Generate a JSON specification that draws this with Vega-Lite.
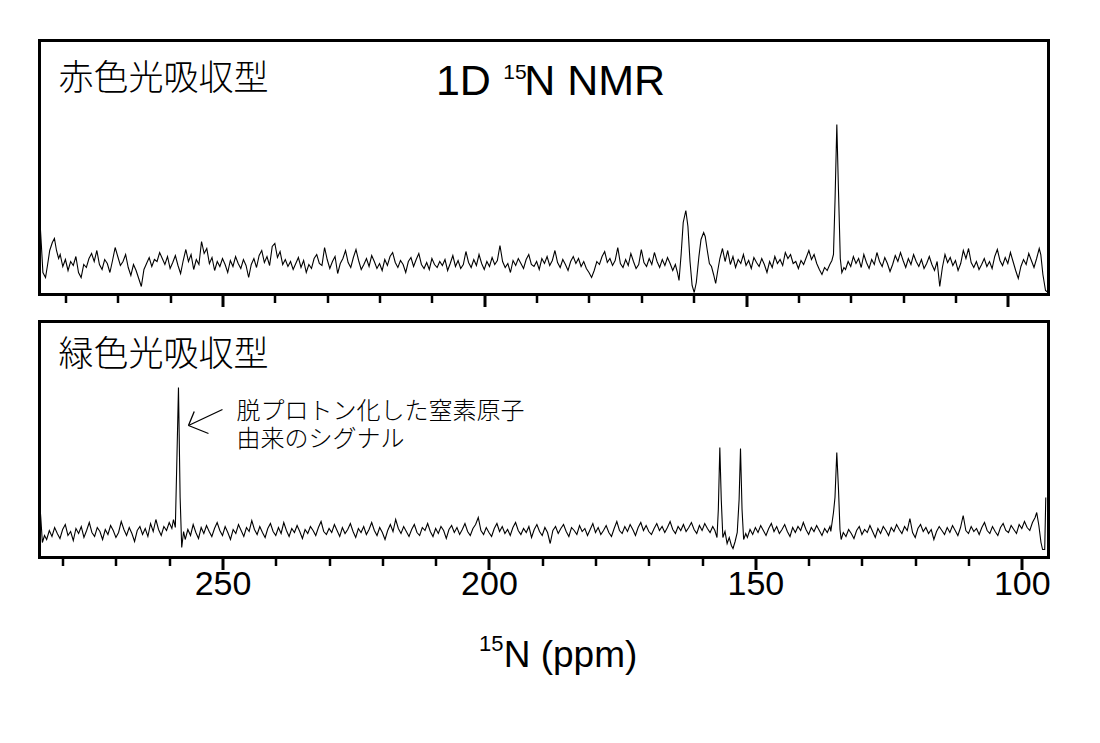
{
"$schema": "https://vega.github.io/schema/vega-lite/v6.json",
"background": "white",
"padding": {"left": 35.5, "top": 38.5, "right": 5, "bottom": 5},
"config": {"view": {"stroke": "black", "strokeWidth": 3}, "font": "Liberation Sans"},
"spacing": 27,
"bounds": "flush",
"vconcat": [
{
"width": 1009, "height": 254,
"encoding": {
 "x": {"field": "x", "type": "quantitative", "scale": {"domain": [92.23, 284.95], "reverse": true, "nice": false, "zero": false},
  "axis": {"values": [280,270,260,250,240,230,220,210,200,190,180,170,160,150,140,130,120,110,100], "labels": false, "domain": false, "grid": false, "title": null, "tickColor": "black",
   "tickSize": {"condition": {"test": "datum.value % 50 === 0", "value": 12}, "value": 8},
   "tickWidth": {"condition": {"test": "datum.value % 50 === 0", "value": 3}, "value": 2.5}}},
 "y": {"field": "y", "type": "quantitative", "scale": {"domain": [0, 254], "nice": false, "zero": false}, "axis": null}
},
"layer": [
 {"data": {"name": "red"}, "mark": {"type": "line", "color": "black", "strokeWidth": 1.1}},
 {"data": {"values": [{"x": 281.33, "y": 204.5, "t": "赤色光吸収型"}]}, "mark": {"type": "text", "font": "Noto Sans CJK JP", "fontWeight": 300, "fontSize": 35, "align": "left", "baseline": "alphabetic", "color": "black"}, "encoding": {"text": {"field": "t"}}},
 {"data": {"values": [{"x": 209.24, "y": 200, "t": "1D"}, {"x": 192.37, "y": 200, "t": "N NMR"}]}, "mark": {"type": "text", "font": "Liberation Sans", "fontSize": 43, "align": "left", "baseline": "alphabetic", "color": "black"}, "encoding": {"text": {"field": "t"}}},
 {"data": {"values": [{"x": 196.38, "y": 216, "t": "15"}]}, "mark": {"type": "text", "font": "Liberation Sans", "fontSize": 21, "align": "left", "baseline": "alphabetic", "color": "black"}, "encoding": {"text": {"field": "t"}}}
]
},
{
"width": 1009, "height": 236,
"encoding": {
 "x": {"field": "x", "type": "quantitative", "scale": {"domain": [94.99, 284.34], "reverse": true, "nice": false, "zero": false},
  "axis": {"values": [280,270,260,250,240,230,220,210,200,190,180,170,160,150,140,130,120,110,100], "domain": false, "grid": false, "title": null, "tickColor": "black",
   "tickSize": {"condition": {"test": "datum.value % 50 === 0", "value": 12}, "value": 8},
   "tickWidth": {"condition": {"test": "datum.value % 50 === 0", "value": 3}, "value": 2.5},
   "labelExpr": "datum.value % 50 === 0 ? datum.label : ''", "labelFont": "Liberation Sans", "labelFontSize": 34, "labelColor": "black", "labelPadding": -2, "labelBaseline": "top", "labelFlush": false, "labelOverlap": false}},
 "y": {"field": "y", "type": "quantitative", "scale": {"domain": [0, 236], "nice": false, "zero": false}, "axis": null}
},
"layer": [
 {"data": {"name": "green"}, "mark": {"type": "line", "color": "black", "strokeWidth": 1.1}},
 {"data": {"values": [{"x": 280.78, "y": 191.5, "t": "緑色光吸収型"}]}, "mark": {"type": "text", "font": "Noto Sans CJK JP", "fontWeight": 300, "fontSize": 35, "align": "left", "baseline": "alphabetic", "color": "black"}, "encoding": {"text": {"field": "t"}}},
 {"data": {"values": [{"x": 247.37, "y": 139, "t": "脱プロトン化した窒素原子"}, {"x": 247.37, "y": 111, "t": "由来のシグナル"}]}, "mark": {"type": "text", "font": "Noto Sans CJK JP", "fontWeight": 300, "fontSize": 24, "align": "left", "baseline": "alphabetic", "color": "black"}, "encoding": {"text": {"field": "t"}}},
 {"data": {"values": [{"x": 250.0, "y": 148, "x2": 256.38, "y2": 132}, {"x": 252.63, "y": 124, "x2": 256.38, "y2": 132}, {"x": 255.3, "y": 146, "x2": 256.38, "y2": 132}]}, "mark": {"type": "rule", "color": "black", "strokeWidth": 1.3}, "encoding": {"x2": {"field": "x2"}, "y2": {"field": "y2"}}},
 {"data": {"values": [{"x": 197.23, "y": -109, "t": "N (ppm)"}]}, "mark": {"type": "text", "font": "Liberation Sans", "fontSize": 37, "align": "left", "baseline": "alphabetic", "color": "black"}, "encoding": {"text": {"field": "t"}}},
 {"data": {"values": [{"x": 201.85, "y": -93, "t": "15"}]}, "mark": {"type": "text", "font": "Liberation Sans", "fontSize": 22, "align": "left", "baseline": "alphabetic", "color": "black"}, "encoding": {"text": {"field": "t"}}}
]
}
],
"datasets": {
"red": [
{"x":284.95,"y":81},{"x":284.6,"y":50},{"x":284.3,"y":22},{"x":283.8,"y":17},{"x":283.4,"y":30},{"x":283.0,"y":44},{"x":282.5,"y":52},{"x":282.1,"y":56},{"x":281.7,"y":44},{"x":281.3,"y":36},
{"x":281.0,"y":40},{"x":280.5,"y":28},{"x":280.0,"y":35},{"x":279.5,"y":24},{"x":279.0,"y":33},{"x":278.5,"y":29},{"x":278.0,"y":38},{"x":277.5,"y":22},{"x":277.0,"y":17},{"x":276.5,"y":30},
{"x":276.0,"y":27},{"x":275.5,"y":36},{"x":275.0,"y":41},{"x":274.5,"y":33},{"x":274.0,"y":44},{"x":273.5,"y":30},{"x":273.0,"y":25},{"x":272.5,"y":35},{"x":272.0,"y":31},{"x":271.5,"y":22},
{"x":271.0,"y":34},{"x":270.5,"y":47},{"x":270.0,"y":38},{"x":269.5,"y":29},{"x":269.0,"y":33},{"x":268.5,"y":40},{"x":268.0,"y":27},{"x":267.5,"y":19},{"x":267.0,"y":30},{"x":266.5,"y":24},
{"x":266.0,"y":16},{"x":265.5,"y":8},{"x":265.0,"y":25},{"x":264.5,"y":31},{"x":264.0,"y":37},{"x":263.5,"y":28},{"x":263.0,"y":35},{"x":262.5,"y":33},{"x":262.0,"y":42},{"x":261.5,"y":36},
{"x":261.0,"y":30},{"x":260.5,"y":38},{"x":260.0,"y":26},{"x":259.5,"y":32},{"x":259.0,"y":39},{"x":258.5,"y":29},{"x":258.0,"y":21},{"x":257.5,"y":34},{"x":257.0,"y":45},{"x":256.5,"y":33},
{"x":256.0,"y":40},{"x":255.5,"y":25},{"x":255.0,"y":35},{"x":254.5,"y":30},{"x":254.0,"y":53},{"x":253.5,"y":41},{"x":253.0,"y":46},{"x":252.5,"y":31},{"x":252.0,"y":37},{"x":251.5,"y":24},
{"x":251.0,"y":33},{"x":250.5,"y":28},{"x":250.0,"y":36},{"x":249.5,"y":30},{"x":249.0,"y":22},{"x":248.5,"y":34},{"x":248.0,"y":28},{"x":247.5,"y":38},{"x":247.0,"y":31},{"x":246.5,"y":26},
{"x":246.0,"y":35},{"x":245.5,"y":29},{"x":245.0,"y":17},{"x":244.5,"y":30},{"x":244.0,"y":36},{"x":243.5,"y":27},{"x":243.0,"y":39},{"x":242.5,"y":44},{"x":242.0,"y":32},{"x":241.5,"y":38},
{"x":241.0,"y":29},{"x":240.5,"y":48},{"x":240.0,"y":51},{"x":239.5,"y":37},{"x":239.0,"y":43},{"x":238.5,"y":30},{"x":238.0,"y":35},{"x":237.5,"y":28},{"x":237.0,"y":33},{"x":236.5,"y":25},
{"x":236.0,"y":31},{"x":235.5,"y":37},{"x":235.0,"y":27},{"x":234.5,"y":34},{"x":234.0,"y":22},{"x":233.5,"y":30},{"x":233.0,"y":26},{"x":232.5,"y":36},{"x":232.0,"y":40},{"x":231.5,"y":31},
{"x":231.0,"y":29},{"x":230.5,"y":47},{"x":230.0,"y":35},{"x":229.5,"y":26},{"x":229.0,"y":33},{"x":228.5,"y":38},{"x":228.0,"y":21},{"x":227.5,"y":31},{"x":227.0,"y":36},{"x":226.5,"y":44},
{"x":226.0,"y":32},{"x":225.5,"y":27},{"x":225.0,"y":37},{"x":224.5,"y":45},{"x":224.0,"y":34},{"x":223.5,"y":25},{"x":223.0,"y":30},{"x":222.5,"y":36},{"x":222.0,"y":28},{"x":221.5,"y":39},
{"x":221.0,"y":33},{"x":220.5,"y":26},{"x":220.0,"y":31},{"x":219.5,"y":24},{"x":219.0,"y":35},{"x":218.5,"y":29},{"x":218.0,"y":38},{"x":217.5,"y":42},{"x":217.0,"y":32},{"x":216.5,"y":27},
{"x":216.0,"y":34},{"x":215.5,"y":30},{"x":215.0,"y":22},{"x":214.5,"y":33},{"x":214.0,"y":37},{"x":213.5,"y":28},{"x":213.0,"y":35},{"x":212.5,"y":41},{"x":212.0,"y":30},{"x":211.5,"y":26},
{"x":211.0,"y":32},{"x":210.5,"y":25},{"x":210.0,"y":36},{"x":209.5,"y":30},{"x":209.0,"y":27},{"x":208.5,"y":33},{"x":208.0,"y":29},{"x":207.5,"y":35},{"x":207.0,"y":24},{"x":206.5,"y":31},
{"x":206.0,"y":39},{"x":205.5,"y":28},{"x":205.0,"y":34},{"x":204.5,"y":26},{"x":204.0,"y":30},{"x":203.5,"y":43},{"x":203.0,"y":32},{"x":202.5,"y":27},{"x":202.0,"y":35},{"x":201.5,"y":29},
{"x":201.0,"y":40},{"x":200.5,"y":31},{"x":200.0,"y":25},{"x":199.5,"y":33},{"x":199.0,"y":28},{"x":198.5,"y":37},{"x":198.0,"y":30},{"x":197.5,"y":34},{"x":197.0,"y":49},{"x":196.5,"y":33},
{"x":196.0,"y":27},{"x":195.5,"y":31},{"x":195.0,"y":22},{"x":194.5,"y":34},{"x":194.0,"y":29},{"x":193.5,"y":36},{"x":193.0,"y":31},{"x":192.5,"y":26},{"x":192.0,"y":35},{"x":191.5,"y":40},
{"x":191.0,"y":30},{"x":190.5,"y":28},{"x":190.0,"y":33},{"x":189.5,"y":25},{"x":189.0,"y":36},{"x":188.5,"y":31},{"x":188.0,"y":38},{"x":187.5,"y":29},{"x":187.0,"y":34},{"x":186.5,"y":44},
{"x":186.0,"y":32},{"x":185.5,"y":27},{"x":185.0,"y":35},{"x":184.5,"y":30},{"x":184.0,"y":24},{"x":183.5,"y":33},{"x":183.0,"y":38},{"x":182.5,"y":31},{"x":182.0,"y":36},{"x":181.5,"y":28},
{"x":181.0,"y":33},{"x":180.5,"y":26},{"x":180.0,"y":22},{"x":179.5,"y":17},{"x":179.0,"y":24},{"x":178.5,"y":33},{"x":178.0,"y":30},{"x":177.5,"y":38},{"x":177.0,"y":43},{"x":176.5,"y":32},
{"x":176.0,"y":36},{"x":175.5,"y":29},{"x":175.0,"y":34},{"x":174.5,"y":47},{"x":174.0,"y":31},{"x":173.5,"y":27},{"x":173.0,"y":35},{"x":172.5,"y":29},{"x":172.0,"y":41},{"x":171.5,"y":33},
{"x":171.0,"y":26},{"x":170.5,"y":30},{"x":170.0,"y":45},{"x":169.5,"y":32},{"x":169.0,"y":28},{"x":168.5,"y":36},{"x":168.0,"y":30},{"x":167.5,"y":42},{"x":167.0,"y":33},{"x":166.5,"y":27},
{"x":166.0,"y":35},{"x":165.5,"y":29},{"x":165.0,"y":37},{"x":164.5,"y":31},{"x":164.0,"y":24},{"x":163.5,"y":30},
{"x":163.1,"y":22},{"x":162.8,"y":14},{"x":162.4,"y":40},{"x":162.0,"y":72},{"x":161.5,"y":84},{"x":161.1,"y":68},{"x":160.7,"y":33},{"x":160.3,"y":9},{"x":159.9,"y":2},{"x":159.5,"y":12},
{"x":159.0,"y":38},{"x":158.6,"y":55},{"x":158.1,"y":62},{"x":157.8,"y":58},{"x":157.4,"y":44},{"x":157.0,"y":31},{"x":156.6,"y":28},{"x":156.2,"y":20},{"x":155.8,"y":11},{"x":155.4,"y":24},
{"x":155.0,"y":36},{"x":154.5,"y":46},{"x":154.0,"y":33},{"x":153.5,"y":44},{"x":153.0,"y":30},{"x":152.5,"y":38},{"x":152.0,"y":27},{"x":151.5,"y":35},{"x":151.0,"y":31},{"x":150.5,"y":40},
{"x":150.0,"y":29},{"x":149.5,"y":34},{"x":149.0,"y":26},{"x":148.5,"y":37},{"x":148.0,"y":32},{"x":147.5,"y":28},{"x":147.0,"y":36},{"x":146.5,"y":30},{"x":146.0,"y":22},{"x":145.5,"y":33},
{"x":145.0,"y":27},{"x":144.5,"y":38},{"x":144.0,"y":31},{"x":143.5,"y":35},{"x":143.0,"y":29},{"x":142.5,"y":42},{"x":142.0,"y":36},{"x":141.5,"y":40},{"x":141.0,"y":31},{"x":140.5,"y":33},
{"x":140.0,"y":26},{"x":139.5,"y":34},{"x":139.0,"y":30},{"x":138.5,"y":37},{"x":138.0,"y":44},{"x":137.5,"y":35},{"x":137.0,"y":40},{"x":136.5,"y":31},{"x":136.0,"y":25},{"x":135.5,"y":20},
{"x":135.0,"y":27},{"x":134.5,"y":24},{"x":134.0,"y":30},{"x":133.6,"y":34},{"x":133.3,"y":40},{"x":133.0,"y":95},{"x":132.66,"y":170},{"x":132.35,"y":105},{"x":132.0,"y":36},{"x":131.7,"y":22},
{"x":131.3,"y":27},{"x":131.0,"y":25},{"x":130.5,"y":33},{"x":130.0,"y":28},{"x":129.5,"y":38},{"x":129.0,"y":31},{"x":128.5,"y":36},{"x":128.0,"y":27},{"x":127.5,"y":40},{"x":127.0,"y":32},
{"x":126.5,"y":26},{"x":126.0,"y":35},{"x":125.5,"y":30},{"x":125.0,"y":42},{"x":124.5,"y":33},{"x":124.0,"y":28},{"x":123.5,"y":37},{"x":123.0,"y":31},{"x":122.5,"y":23},{"x":122.0,"y":30},
{"x":121.5,"y":39},{"x":121.0,"y":33},{"x":120.5,"y":42},{"x":120.0,"y":34},{"x":119.5,"y":27},{"x":119.0,"y":36},{"x":118.5,"y":30},{"x":118.0,"y":40},{"x":117.5,"y":33},{"x":117.0,"y":28},
{"x":116.5,"y":35},{"x":116.0,"y":26},{"x":115.5,"y":31},{"x":115.0,"y":38},{"x":114.5,"y":30},{"x":114.0,"y":24},{"x":113.5,"y":33},{"x":113.0,"y":8},{"x":112.5,"y":27},{"x":112.0,"y":40},
{"x":111.5,"y":32},{"x":111.0,"y":37},{"x":110.5,"y":29},{"x":110.0,"y":34},{"x":109.5,"y":24},{"x":109.0,"y":31},{"x":108.5,"y":44},{"x":108.0,"y":36},{"x":107.5,"y":46},{"x":107.0,"y":32},
{"x":106.5,"y":27},{"x":106.0,"y":33},{"x":105.5,"y":25},{"x":105.0,"y":30},{"x":104.5,"y":36},{"x":104.0,"y":28},{"x":103.5,"y":33},{"x":103.0,"y":26},{"x":102.5,"y":38},{"x":102.0,"y":45},
{"x":101.5,"y":34},{"x":101.0,"y":29},{"x":100.5,"y":37},{"x":100.0,"y":31},{"x":99.5,"y":42},{"x":99.0,"y":33},{"x":98.5,"y":24},{"x":98.0,"y":16},{"x":97.5,"y":28},{"x":97.0,"y":35},
{"x":96.5,"y":30},{"x":96.0,"y":41},{"x":95.5,"y":34},{"x":95.0,"y":27},{"x":94.5,"y":36},{"x":94.0,"y":46},{"x":93.7,"y":40},{"x":93.3,"y":20},{"x":92.8,"y":4},{"x":92.3,"y":2}
],
"green": [
{"x":284.34,"y":57},{"x":284.1,"y":40},{"x":283.8,"y":15},{"x":283.4,"y":22},{"x":283.0,"y":18},{"x":282.5,"y":27},{"x":282.0,"y":21},{"x":281.5,"y":30},{"x":281.0,"y":24},{"x":280.5,"y":19},
{"x":280.0,"y":28},{"x":279.5,"y":33},{"x":279.0,"y":22},{"x":278.5,"y":26},{"x":278.0,"y":17},{"x":277.5,"y":29},{"x":277.0,"y":24},{"x":276.5,"y":31},{"x":276.0,"y":20},{"x":275.5,"y":27},
{"x":275.0,"y":35},{"x":274.5,"y":25},{"x":274.0,"y":21},{"x":273.5,"y":30},{"x":273.0,"y":26},{"x":272.5,"y":18},{"x":272.0,"y":28},{"x":271.5,"y":23},{"x":271.0,"y":32},{"x":270.5,"y":27},
{"x":270.0,"y":20},{"x":269.5,"y":25},{"x":269.0,"y":36},{"x":268.5,"y":28},{"x":268.0,"y":22},{"x":267.5,"y":30},{"x":267.0,"y":24},{"x":266.5,"y":16},{"x":266.0,"y":27},{"x":265.5,"y":31},
{"x":265.0,"y":23},{"x":264.5,"y":29},{"x":264.0,"y":21},{"x":263.5,"y":34},{"x":263.0,"y":26},{"x":262.5,"y":38},{"x":262.0,"y":28},{"x":261.5,"y":22},{"x":261.0,"y":31},{"x":260.5,"y":27},
{"x":260.0,"y":35},{"x":259.5,"y":29},{"x":259.2,"y":38},{"x":258.85,"y":30},{"x":258.55,"y":100},{"x":258.26,"y":170},{"x":257.95,"y":60},{"x":257.65,"y":10},{"x":257.3,"y":26},{"x":257.0,"y":18},
{"x":256.5,"y":28},{"x":256.0,"y":22},{"x":255.5,"y":33},{"x":255.0,"y":25},{"x":254.5,"y":19},{"x":254.0,"y":30},{"x":253.5,"y":24},{"x":253.0,"y":32},{"x":252.5,"y":26},{"x":252.0,"y":21},
{"x":251.5,"y":29},{"x":251.0,"y":35},{"x":250.5,"y":27},{"x":250.0,"y":22},{"x":249.5,"y":31},{"x":249.0,"y":25},{"x":248.5,"y":18},{"x":248.0,"y":28},{"x":247.5,"y":24},{"x":247.0,"y":33},
{"x":246.5,"y":27},{"x":246.0,"y":21},{"x":245.5,"y":30},{"x":245.0,"y":26},{"x":244.5,"y":37},{"x":244.0,"y":28},{"x":243.5,"y":23},{"x":243.0,"y":31},{"x":242.5,"y":25},{"x":242.0,"y":20},
{"x":241.5,"y":29},{"x":241.0,"y":34},{"x":240.5,"y":26},{"x":240.0,"y":22},{"x":239.5,"y":30},{"x":239.0,"y":24},{"x":238.5,"y":35},{"x":238.0,"y":27},{"x":237.5,"y":21},{"x":237.0,"y":29},
{"x":236.5,"y":25},{"x":236.0,"y":32},{"x":235.5,"y":26},{"x":235.0,"y":19},{"x":234.5,"y":28},{"x":234.0,"y":24},{"x":233.5,"y":31},{"x":233.0,"y":27},{"x":232.5,"y":22},{"x":232.0,"y":30},
{"x":231.5,"y":36},{"x":231.0,"y":26},{"x":230.5,"y":23},{"x":230.0,"y":29},{"x":229.5,"y":25},{"x":229.0,"y":33},{"x":228.5,"y":27},{"x":228.0,"y":21},{"x":227.5,"y":30},{"x":227.0,"y":24},
{"x":226.5,"y":28},{"x":226.0,"y":34},{"x":225.5,"y":26},{"x":225.0,"y":20},{"x":224.5,"y":29},{"x":224.0,"y":25},{"x":223.5,"y":31},{"x":223.0,"y":23},{"x":222.5,"y":28},{"x":222.0,"y":35},
{"x":221.5,"y":27},{"x":221.0,"y":22},{"x":220.5,"y":30},{"x":220.0,"y":25},{"x":219.5,"y":18},{"x":219.0,"y":27},{"x":218.5,"y":33},{"x":218.0,"y":26},{"x":217.5,"y":38},{"x":217.0,"y":29},
{"x":216.5,"y":24},{"x":216.0,"y":31},{"x":215.5,"y":26},{"x":215.0,"y":21},{"x":214.5,"y":28},{"x":214.0,"y":33},{"x":213.5,"y":25},{"x":213.0,"y":22},{"x":212.5,"y":30},{"x":212.0,"y":27},
{"x":211.5,"y":34},{"x":211.0,"y":26},{"x":210.5,"y":21},{"x":210.0,"y":29},{"x":209.5,"y":24},{"x":209.0,"y":31},{"x":208.5,"y":27},{"x":208.0,"y":19},{"x":207.5,"y":28},{"x":207.0,"y":32},
{"x":206.5,"y":25},{"x":206.0,"y":30},{"x":205.5,"y":23},{"x":205.0,"y":28},{"x":204.5,"y":34},{"x":204.0,"y":26},{"x":203.5,"y":22},{"x":203.0,"y":29},{"x":202.5,"y":33},{"x":202.0,"y":40},
{"x":201.5,"y":27},{"x":201.0,"y":23},{"x":200.5,"y":30},{"x":200.0,"y":25},{"x":199.5,"y":21},{"x":199.0,"y":29},{"x":198.5,"y":34},{"x":198.0,"y":26},{"x":197.5,"y":31},{"x":197.0,"y":24},
{"x":196.5,"y":28},{"x":196.0,"y":22},{"x":195.5,"y":30},{"x":195.0,"y":35},{"x":194.5,"y":27},{"x":194.0,"y":23},{"x":193.5,"y":29},{"x":193.0,"y":25},{"x":192.5,"y":31},{"x":192.0,"y":20},
{"x":191.5,"y":28},{"x":191.0,"y":33},{"x":190.5,"y":26},{"x":190.0,"y":22},{"x":189.5,"y":30},{"x":189.0,"y":25},{"x":188.5,"y":14},{"x":188.0,"y":27},{"x":187.5,"y":31},{"x":187.0,"y":24},
{"x":186.5,"y":29},{"x":186.0,"y":33},{"x":185.5,"y":26},{"x":185.0,"y":21},{"x":184.5,"y":30},{"x":184.0,"y":27},{"x":183.5,"y":23},{"x":183.0,"y":32},{"x":182.5,"y":26},{"x":182.0,"y":29},
{"x":181.5,"y":22},{"x":181.0,"y":28},{"x":180.5,"y":34},{"x":180.0,"y":25},{"x":179.5,"y":30},{"x":179.0,"y":23},{"x":178.5,"y":27},{"x":178.0,"y":32},{"x":177.5,"y":25},{"x":177.0,"y":21},
{"x":176.5,"y":29},{"x":176.0,"y":36},{"x":175.5,"y":27},{"x":175.0,"y":24},{"x":174.5,"y":31},{"x":174.0,"y":26},{"x":173.5,"y":33},{"x":173.0,"y":28},{"x":172.5,"y":22},{"x":172.0,"y":30},
{"x":171.5,"y":35},{"x":171.0,"y":27},{"x":170.5,"y":32},{"x":170.0,"y":26},{"x":169.5,"y":23},{"x":169.0,"y":29},{"x":168.5,"y":34},{"x":168.0,"y":27},{"x":167.5,"y":31},{"x":167.0,"y":25},
{"x":166.5,"y":30},{"x":166.0,"y":36},{"x":165.5,"y":28},{"x":165.0,"y":24},{"x":164.5,"y":31},{"x":164.0,"y":27},{"x":163.5,"y":33},{"x":163.0,"y":26},{"x":162.5,"y":30},{"x":162.0,"y":35},
{"x":161.5,"y":28},{"x":161.0,"y":24},{"x":160.5,"y":32},{"x":160.0,"y":27},{"x":159.5,"y":34},{"x":159.0,"y":29},{"x":158.5,"y":25},{"x":158.0,"y":31},{"x":157.6,"y":27},{"x":157.2,"y":20},
{"x":156.95,"y":48},{"x":156.67,"y":110},{"x":156.4,"y":58},{"x":156.1,"y":20},{"x":155.7,"y":26},{"x":155.3,"y":14},{"x":154.9,"y":20},{"x":154.5,"y":12},{"x":154.2,"y":9},{"x":153.8,"y":16},
{"x":153.4,"y":25},{"x":153.05,"y":58},{"x":152.79,"y":109},{"x":152.5,"y":48},{"x":152.2,"y":18},{"x":151.8,"y":24},{"x":151.5,"y":20},{"x":151.0,"y":28},{"x":150.5,"y":23},{"x":150.0,"y":30},
{"x":149.5,"y":25},{"x":149.0,"y":32},{"x":148.5,"y":27},{"x":148.0,"y":22},{"x":147.5,"y":29},{"x":147.0,"y":34},{"x":146.5,"y":26},{"x":146.0,"y":31},{"x":145.5,"y":24},{"x":145.0,"y":28},
{"x":144.5,"y":33},{"x":144.0,"y":26},{"x":143.5,"y":21},{"x":143.0,"y":30},{"x":142.5,"y":25},{"x":142.0,"y":31},{"x":141.5,"y":27},{"x":141.0,"y":35},{"x":140.5,"y":28},{"x":140.0,"y":23},
{"x":139.5,"y":30},{"x":139.0,"y":26},{"x":138.5,"y":32},{"x":138.0,"y":27},{"x":137.5,"y":22},{"x":137.0,"y":29},{"x":136.5,"y":25},{"x":136.0,"y":31},{"x":135.84,"y":26},{"x":135.34,"y":45},
{"x":135.06,"y":60},{"x":134.72,"y":105},{"x":134.4,"y":68},{"x":134.12,"y":28},{"x":133.9,"y":18},{"x":133.5,"y":25},{"x":133.0,"y":21},{"x":132.5,"y":28},{"x":132.0,"y":24},{"x":131.5,"y":19},
{"x":131.0,"y":27},{"x":130.5,"y":31},{"x":130.0,"y":23},{"x":129.5,"y":28},{"x":129.0,"y":25},{"x":128.5,"y":32},{"x":128.0,"y":26},{"x":127.5,"y":20},{"x":127.0,"y":29},{"x":126.5,"y":24},
{"x":126.0,"y":31},{"x":125.5,"y":27},{"x":125.0,"y":22},{"x":124.5,"y":30},{"x":124.0,"y":26},{"x":123.5,"y":33},{"x":123.0,"y":28},{"x":122.5,"y":24},{"x":122.0,"y":31},{"x":121.5,"y":27},
{"x":121.0,"y":39},{"x":120.5,"y":25},{"x":120.0,"y":20},{"x":119.5,"y":29},{"x":119.0,"y":33},{"x":118.5,"y":26},{"x":118.0,"y":30},{"x":117.5,"y":24},{"x":117.0,"y":28},{"x":116.5,"y":18},
{"x":116.0,"y":26},{"x":115.5,"y":31},{"x":115.0,"y":27},{"x":114.5,"y":23},{"x":114.0,"y":30},{"x":113.5,"y":25},{"x":113.0,"y":32},{"x":112.5,"y":27},{"x":112.0,"y":22},{"x":111.5,"y":30},
{"x":111.0,"y":42},{"x":110.5,"y":27},{"x":110.0,"y":24},{"x":109.5,"y":31},{"x":109.0,"y":26},{"x":108.5,"y":29},{"x":108.0,"y":23},{"x":107.5,"y":30},{"x":107.0,"y":35},{"x":106.5,"y":27},
{"x":106.0,"y":24},{"x":105.5,"y":31},{"x":105.0,"y":26},{"x":104.5,"y":22},{"x":104.0,"y":30},{"x":103.5,"y":34},{"x":103.0,"y":27},{"x":102.5,"y":25},{"x":102.0,"y":32},{"x":101.5,"y":28},
{"x":101.0,"y":24},{"x":100.5,"y":33},{"x":100.0,"y":29},{"x":99.5,"y":36},{"x":99.0,"y":30},{"x":98.5,"y":27},{"x":98.0,"y":35},{"x":97.5,"y":40},{"x":97.2,"y":45},{"x":96.8,"y":32},
{"x":96.4,"y":15},{"x":96.1,"y":8},{"x":95.7,"y":8},{"x":95.5,"y":60}
]
}
}
